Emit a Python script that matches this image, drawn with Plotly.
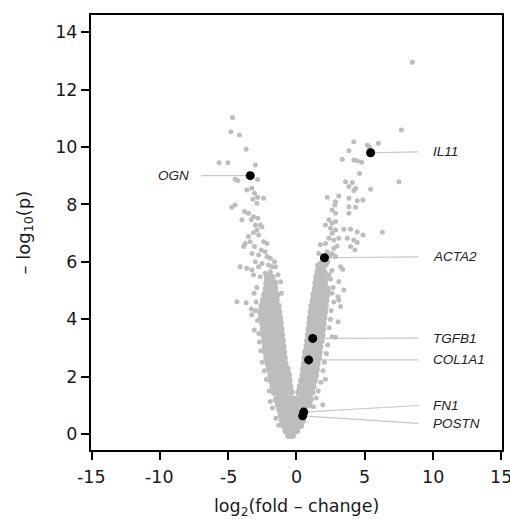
import plotly.graph_objects as go

# ---------------- data ----------------
# dense core of the volcano (rows of y with the x positions of points)
core_rows = [
    (-0.05, [-0.55, -0.3]),
    (0.12, [-0.75, -0.5, -0.25, 0.0]),
    (0.30, [-0.9, -0.65, -0.4, -0.15, 0.1, 0.3]),
    (0.48, [-1.0, -0.75, -0.5, -0.25, 0.0, 0.25, 0.45]),
    (0.66, [-1.1, -0.85, -0.6, -0.35, -0.1, 0.15, 0.4, 0.55]),
    (0.84, [-1.2, -0.95, -0.7, -0.45, -0.2, 0.05, 0.3, 0.55]),
    (1.02, [-1.3, -1.05, -0.8, -0.55, -0.3, -0.05, 0.2, 0.45, 0.7, 0.9]),
    (1.20, [-1.45, -1.2, -0.95, -0.7, -0.45, -0.2, 0.05, 0.3, 0.55, 0.8, 1.0]),
    (1.45, [-1.6, -1.3, -1.0, -0.7, -0.4, 0.2, 0.5, 0.8, 1.1]),
    (1.65, [-1.7, -1.4, -1.1, -0.8, -0.5, 0.3, 0.6, 0.9, 1.2]),
    (1.85, [-1.8, -1.5, -1.2, -0.9, -0.55, 0.4, 0.7, 1.0, 1.3]),
    (2.05, [-1.85, -1.55, -1.25, -0.95, -0.6, 0.5, 0.8, 1.1, 1.4]),
    (2.25, [-1.95, -1.65, -1.35, -1.05, -0.7, 0.55, 0.85, 1.15, 1.45]),
    (2.45, [-2.05, -1.75, -1.45, -1.15, -0.85, 0.6, 0.9, 1.2, 1.5]),
    (2.65, [-2.15, -1.85, -1.55, -1.25, -0.9, 0.65, 0.95, 1.25, 1.6]),
    (2.85, [-2.2, -1.9, -1.6, -1.3, -0.95, 0.7, 1.0, 1.3, 1.65]),
    (3.05, [-2.25, -1.95, -1.65, -1.35, -1.0, 0.8, 1.1, 1.4, 1.7]),
    (3.25, [-2.3, -2.0, -1.7, -1.4, -1.05, 0.85, 1.15, 1.45, 1.8]),
    (3.45, [-2.35, -2.05, -1.75, -1.45, -1.1, 0.9, 1.2, 1.5, 1.85]),
    (3.65, [-2.4, -2.1, -1.8, -1.5, -1.15, 0.95, 1.25, 1.55, 1.9]),
    (3.85, [-2.45, -2.15, -1.85, -1.55, -1.2, 1.0, 1.3, 1.6, 1.95]),
    (4.05, [-2.55, -2.25, -1.95, -1.6, -1.25, 1.05, 1.35, 1.65, 2.0]),
    (4.25, [-2.6, -2.3, -2.0, -1.65, -1.3, 1.1, 1.4, 1.7, 2.05]),
    (4.45, [-2.5, -2.2, -1.9, -1.6, -1.35, 1.15, 1.45, 1.75, 2.1]),
    (4.65, [-2.4, -2.1, -1.8, -1.5, 1.25, 1.55, 1.85, 2.15]),
    (4.85, [-2.3, -2.0, -1.7, -1.45, 1.3, 1.6, 1.9, 2.2]),
    (5.05, [-2.2, -1.9, -1.6, 1.4, 1.7, 2.0, 2.25]),
    (5.25, [-2.15, -1.85, -1.6, 1.45, 1.75, 2.05]),
    (5.45, [-2.1, -1.8, 1.5, 1.8, 2.1]),
    (5.65, [1.6, 1.9]),
    (5.85, [1.65, 1.95]),
]

# scattered genes outside the dense core
sparse_x = [
    -4.68, -4.80, -4.17, -3.68, -5.66, -5.02, -3.01, -4.49, -4.29, -2.84,
    -3.63, -3.26, -3.07, -2.84, -2.40, -3.19, -2.89, -4.73, -4.49, -3.80,
    -3.51, -3.14, -3.31, -2.82, -3.99, -3.01, -2.65, -2.52, -2.89, -3.14,
    -3.51, -2.77, -2.40, -2.15, -3.75, -3.87, -3.38, -3.07, -2.57, -2.28,
    -3.26, -2.77, -2.15, -1.91, -3.01, -2.52, -4.12, -3.63, -3.26, -2.77,
    -2.04, -1.79, -1.54, -3.14, -2.65, -2.28, -1.91,
    -4.36, -3.68, -3.26, -3.09, -3.00, -3.30, -2.90, -3.10, -2.95, -2.85,
    -2.75, -2.70, -2.60, -2.50, -2.35, -2.20, -2.00, -1.91, -1.75, -1.50,
    -1.30, -1.35, -1.60, -1.15, -1.10,
    7.70, 4.21, 5.20, 5.35, 6.01, 3.85, 3.36, 4.21, 4.46, 4.78,
    4.63, 7.52, 3.60, 4.10, 3.85, 4.34, 4.21, 5.44, 2.26, 3.11,
    3.85, 2.87, 2.82, 4.46, 4.88, 3.85, 4.34, 2.62, 2.87, 3.85,
    2.38, 2.62, 2.87, 2.13, 2.50, 2.87, 2.62, 3.48, 3.97, 4.46,
    4.88, 6.30, 2.38, 2.74, 3.11, 3.73, 4.21, 4.46, 1.76, 2.13,
    3.97, 4.29, 2.74, 2.99, 2.26, 2.62, 1.64, 2.87, 8.50,
    3.24, 3.40, 3.11, 3.48, 3.06, 3.11, 3.24, 3.06, 2.62, 2.87,
    2.13, 1.94, 2.30, 2.00, 2.60, 2.50, 2.70, 2.60, 2.75, 2.55,
    2.50, 2.40, 2.30, 2.20, 2.05, 1.95, 1.80, 1.60, 1.45, 1.25,
    1.90, 2.20, 2.45, 1.75, 2.10, 2.40,
]
sparse_y = [
    11.03, 10.53, 10.42, 9.92, 9.45, 9.45, 9.37, 8.88, 8.83, 8.87,
    8.50, 8.56, 8.39, 8.25, 8.21, 8.18, 8.04, 7.90, 7.98, 7.75,
    7.69, 7.57, 7.46, 7.52, 7.46, 7.28, 7.28, 7.22, 7.11, 7.01,
    6.88, 6.93, 6.70, 6.64, 6.64, 6.53, 6.70, 6.53, 6.41, 6.35,
    6.29, 6.24, 6.18, 6.12, 6.00, 5.94, 5.83, 5.77, 5.71, 5.83,
    5.89, 5.83, 5.83, 5.54, 5.48, 5.60, 5.65,
    4.61, 4.57, 4.15, 3.62, 4.30, 4.35, 5.10, 4.90, 4.60, 3.95,
    3.50, 3.20, 2.90, 2.50, 2.20, 1.90, 1.50, 1.13, 0.90, 0.55,
    0.30, 5.55, 6.00, 5.30, 4.90,
    10.59, 10.18, 10.07, 10.00, 10.13, 9.87, 9.57, 9.55, 9.52, 9.47,
    9.08, 8.79, 8.79, 8.76, 8.62, 8.56, 8.48, 8.53, 8.25, 8.29,
    8.21, 8.09, 7.98, 8.13, 8.15, 7.92, 7.90, 7.80, 7.69, 7.69,
    7.46, 7.34, 7.40, 7.28, 7.17, 7.11, 6.99, 7.13, 7.13, 7.05,
    6.93, 7.03, 6.82, 6.76, 6.82, 6.82, 6.76, 6.67, 6.59, 6.64,
    6.53, 6.41, 6.47, 6.55, 6.35, 6.29, 6.29, 6.18, 12.95,
    5.83, 5.74, 5.31, 5.02, 4.78, 4.67, 4.44, 3.91, 3.39, 3.37,
    1.91, 1.02, 6.00, 6.05, 5.70, 5.40, 5.10, 4.90, 4.60, 4.30,
    4.00, 3.70, 3.10, 2.80, 2.50, 2.20, 1.80, 1.50, 1.25, 0.95,
    6.10, 5.90, 6.20, 5.95, 5.65, 5.55,
]

# highlighted genes
gene_names = ["OGN", "IL11", "ACTA2", "TGFB1", "COL1A1", "FN1", "POSTN"]
gene_x = [-3.38, 5.44, 2.06, 1.20, 0.90, 0.54, 0.46]
gene_y = [9.00, 9.80, 6.14, 3.33, 2.58, 0.76, 0.63]
label_y = [9.00, 9.83, 6.17, 3.34, 2.58, 0.99, 0.37]
label_side = ["left", "right", "right", "right", "right", "right", "right"]

x_ticks = [-15, -10, -5, 0, 5, 10, 15]
x_tick_text = ["-15", "-10", "-5", "0", "5", "10", "15"]
y_ticks = [0, 2, 4, 6, 8, 10, 12, 14]
y_tick_text = ["0", "2", "4", "6", "8", "10", "12", "14"]

# ---------------- figure ----------------
core_x = [x for y, xs in core_rows for x in xs]
core_y = [y for y, xs in core_rows for x in xs]

GREY = "#bdbdbd"
TICK_FONT = "DejaVu Sans, Arial, sans-serif"
LABEL_FONT = "Liberation Sans, Arial, sans-serif"
tick_font = dict(family=TICK_FONT, size=17.5, color="#1a1a1a")

fig = go.Figure()

# connector lines
for name, gx, gy, ly, side in zip(gene_names, gene_x, gene_y, label_y, label_side):
    end_x = 8.95 if side == "right" else -7.0
    fig.add_trace(go.Scatter(x=[gx, end_x], y=[gy, ly], mode="lines",
                             line=dict(color="#c8c8c8", width=1.2),
                             hoverinfo="skip", showlegend=False))

fig.add_trace(go.Scatter(x=core_x, y=core_y, mode="markers",
                         marker=dict(color=GREY, size=7.5, line=dict(width=0)),
                         showlegend=False))
fig.add_trace(go.Scatter(x=sparse_x, y=sparse_y, mode="markers",
                         marker=dict(color=GREY, size=5, line=dict(width=0)),
                         showlegend=False))
fig.add_trace(go.Scatter(x=gene_x, y=gene_y, mode="markers",
                         marker=dict(color="black", size=9, line=dict(width=0)),
                         text=gene_names, showlegend=False))

for name, ly, side in zip(gene_names, label_y, label_side):
    if side == "right":
        fig.add_annotation(x=9.9, y=ly, text=f"<i>{name}</i>", showarrow=False,
                           xanchor="left", yanchor="middle",
                           font=dict(family=LABEL_FONT, size=13.5, color="#222222"))
    else:
        fig.add_annotation(x=-7.75, y=ly, text=f"<i>{name}</i>", showarrow=False,
                           xanchor="right", yanchor="middle",
                           font=dict(family=LABEL_FONT, size=13.5, color="#222222"))

# x tick labels written as annotations so the last one is not clipped
for tv, tt in zip(x_ticks, x_tick_text):
    fig.add_annotation(x=tv, yref="paper", y=-0.062, text=tt, showarrow=False,
                       xanchor="center", yanchor="middle", font=tick_font)

# axis titles
fig.add_annotation(xref="paper", yref="paper", x=0.5, y=-0.133,
                   text="log<sub>2</sub>(fold \u2013 change)", showarrow=False,
                   xanchor="center", yanchor="middle",
                   font=dict(family=TICK_FONT, size=17.5, color="#1a1a1a"))
fig.add_annotation(xref="paper", yref="paper", x=-0.163, y=0.5,
                   text="\u2013 log<sub>10</sub>(p)", showarrow=False, textangle=-90,
                   xanchor="center", yanchor="middle",
                   font=dict(family=TICK_FONT, size=18, color="#1a1a1a"))

axis_common = dict(showgrid=False, zeroline=False, showline=True, mirror=True,
                   linecolor="black", linewidth=2, ticks="outside", ticklen=8,
                   tickwidth=1.5, tickcolor="black", automargin=False,
                   tickfont=tick_font)

fig.update_layout(
    width=510, height=519,
    margin=dict(l=91, r=8, t=15, b=69),
    paper_bgcolor="white", plot_bgcolor="white",
    xaxis=dict(range=[-15.05, 15.07], tickvals=x_ticks, showticklabels=False,
               **axis_common),
    yaxis=dict(range=[-0.56, 14.6], tickvals=y_ticks, ticktext=y_tick_text,
               **axis_common),
)

# remove the default page margin so the figure fills the window exactly,
# and hide the mode bar
fig.write_html(
    "out.html",
    config={"displayModeBar": False},
    post_script="document.body.style.margin='0';"
                "document.documentElement.style.overflow='hidden';"
                "document.body.style.overflow='hidden';",
)
